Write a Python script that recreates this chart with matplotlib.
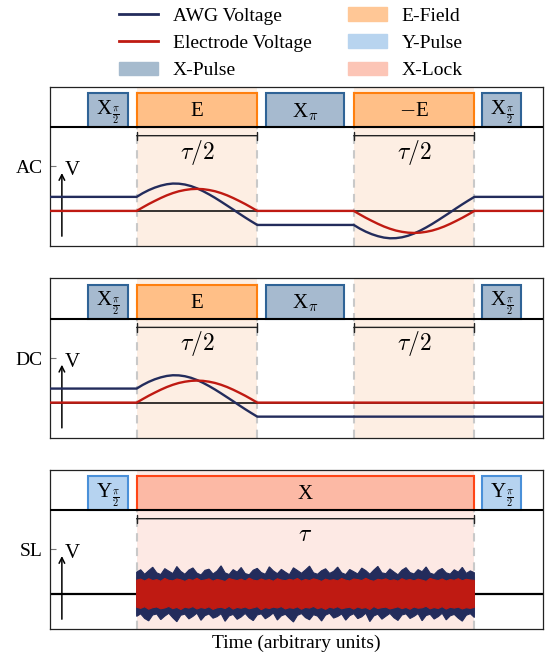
import numpy as np
import matplotlib
matplotlib.use('Agg')
import matplotlib.pyplot as plt
from matplotlib.patches import Rectangle, Patch
from matplotlib.lines import Line2D

plt.rcParams['font.family'] = ['Liberation Serif', 'DejaVu Serif']
plt.rcParams['mathtext.fontset'] = 'cm'

# ---------------- data ----------------
panel_names = ['AC', 'DC', 'SL']

# one tau/2 window of the field pulse, sampled at 21 equally spaced times
awg_shape = [1.00, 1.26, 1.48, 1.66, 1.80, 1.90, 1.95, 1.94, 1.88, 1.77, 1.61,
             1.41, 1.18, 0.93, 0.66, 0.38, 0.10, -0.19, -0.47, -0.74, -1.00]
electrode_shape = [0.00, 0.25, 0.49, 0.71, 0.92, 1.11, 1.27, 1.40, 1.49, 1.55, 1.57,
                   1.55, 1.49, 1.40, 1.27, 1.11, 0.92, 0.71, 0.49, 0.25, 0.00]
awg_offset = 1.0

# spin-lock noise: upper / lower envelopes of the AWG and electrode traces
awg_upper = [1.55, 1.72, 1.40, 1.66, 1.90, 1.50, 1.38, 1.80, 1.62, 1.45, 1.95, 1.60, 1.40,
             1.70, 1.85, 1.48, 1.35, 1.68, 1.76, 1.42, 1.63, 2.00, 1.50, 1.38, 1.73, 1.55,
             1.88, 1.45, 1.36, 1.69, 1.82, 1.52, 1.40, 1.93, 1.64, 1.44, 1.75, 1.55, 1.37,
             1.86, 1.67, 1.47, 1.71, 1.98, 1.50, 1.40, 1.65, 1.79, 1.46, 1.61, 1.91, 1.50,
             1.38, 1.74, 1.58, 1.42, 1.84, 1.66, 1.40, 1.70, 1.96, 1.50, 1.44, 1.78, 1.56,
             1.36, 1.69, 1.87, 1.52, 1.42, 1.73, 1.58, 1.92, 1.48, 1.38, 1.67, 1.81, 1.50,
             1.41, 1.72, 1.55, 1.89, 1.46, 1.64, 1.51]
awg_lower = [-1.60, -1.42, -1.75, -1.92, -1.50, -1.43, -1.83, -1.58, -1.38, -1.70, -1.98,
             -1.52, -1.44, -1.78, -1.60, -1.37, -1.88, -1.55, -1.43, -1.73, -1.62, -1.41,
             -1.95, -1.57, -1.46, -1.81, -1.64, -1.39, -1.71, -1.90, -1.50, -1.42, -1.77,
             -1.59, -1.36, -1.86, -1.56, -1.45, -1.74, -2.00, -1.53, -1.40, -1.69, -1.84,
             -1.48, -1.58, -1.93, -1.51, -1.38, -1.72, -1.61, -1.43, -1.87, -1.55, -1.41,
             -1.76, -1.63, -1.37, -1.97, -1.57, -1.44, -1.80, -1.59, -1.39, -1.70, -1.89,
             -1.50, -1.42, -1.75, -1.60, -1.40, -1.91, -1.54, -1.45, -1.79, -1.62, -1.38,
             -1.85, -1.56, -1.46, -1.73, -1.94, -1.52, -1.41, -1.68]
electrode_upper = [0.98, 1.05, 0.92, 1.08, 0.95, 1.02, 0.90, 1.10, 0.97, 0.93, 1.06, 1.00,
                   0.89, 1.04, 0.96, 1.11, 0.94, 0.99, 1.07, 0.91, 1.03, 0.97, 0.88, 1.09,
                   1.01, 0.95, 1.05, 0.92, 1.12, 0.98, 0.93, 1.06, 0.96, 1.02, 0.90, 1.08,
                   0.99, 0.94, 1.04, 0.97, 1.10, 0.91, 1.03, 0.95, 1.07, 1.00, 0.89, 1.05,
                   0.96, 1.01, 0.93, 1.09, 0.98, 0.92, 1.06, 1.02, 0.95, 1.11, 0.97, 0.90,
                   1.04, 0.99, 1.07, 0.94, 1.00, 0.91, 1.08, 0.96, 1.03, 0.93, 1.05, 0.98,
                   0.89, 1.10, 1.01, 0.95, 1.06, 0.92, 1.02, 0.97, 1.08, 0.94, 1.04, 0.99, 0.96]
electrode_lower = [-0.95, -1.03, -0.91, -1.09, -0.98, -0.93, -1.06, -1.00, -0.89, -1.05,
                   -0.96, -1.11, -0.94, -1.01, -0.90, -1.07, -0.97, -1.03, -0.92, -1.10,
                   -0.99, -0.95, -1.04, -0.88, -1.08, -0.96, -1.02, -0.93, -1.06, -0.99,
                   -0.91, -1.12, -0.97, -1.04, -0.94, -1.00, -0.90, -1.07, -0.98, -1.03,
                   -0.92, -1.09, -0.96, -1.01, -0.89, -1.05, -0.97, -1.10, -0.94, -1.02,
                   -0.91, -1.06, -0.99, -0.95, -1.08, -0.93, -1.03, -0.97, -1.11, -0.90,
                   -1.04, -0.98, -0.94, -1.07, -1.00, -0.92, -1.05, -0.96, -1.09, -0.93,
                   -1.02, -0.99, -0.88, -1.06, -0.97, -1.04, -0.91, -1.08, -0.95, -1.01,
                   -0.94, -1.07, -0.98, -1.03, -0.96]

# timing (units of tau/2)
t_min, t_max = -0.716, 3.369
field1 = (0.0, 1.0)
field2 = (1.8, 2.8)

# pulse sequences: (label, start, end, kind)
seq_ac = [(r'X$_{\frac{\pi}{2}}$', -0.403, -0.075, 'x'), ('E', 0.0, 1.0, 'e'),
          (r'X$_{\pi}$', 1.072, 1.716, 'x'), (r'$-$E', 1.8, 2.8, 'e'),
          (r'X$_{\frac{\pi}{2}}$', 2.863, 3.187, 'x')]
seq_dc = [(r'X$_{\frac{\pi}{2}}$', -0.403, -0.075, 'x'), ('E', 0.0, 1.0, 'e'),
          (r'X$_{\pi}$', 1.072, 1.716, 'x'), (r'X$_{\frac{\pi}{2}}$', 2.863, 3.187, 'x')]
seq_sl = [(r'Y$_{\frac{\pi}{2}}$', -0.403, -0.075, 'y'), ('X', 0.0, 2.8, 'lock'),
          (r'Y$_{\frac{\pi}{2}}$', 2.863, 3.187, 'y')]

# ---------------- styles ----------------
C_AWG = '#232c5c'
C_EL = '#bf1a12'
box_style = {
    'x': dict(fc='#a6bacf', ec='#2f6396'),
    'e': dict(fc='#ffbf87', ec='#ff7f0e'),
    'y': dict(fc='#b6d3f0', ec='#4a90d9'),
    'lock': dict(fc='#fcb9a5', ec='#ff4516'),
}
leg_colors = {'X-Pulse': '#a6bbce', 'E-Field': '#ffc796', 'Y-Pulse': '#b8d4ef', 'X-Lock': '#fcc5b6'}
shade_e = '#fdeee3'
shade_sl = '#fde9e4'

Y_LO, Y_HI = -2.5, 8.85
SEP = 5.95
BOX_TOP = 8.38

fig = plt.figure(figsize=(5.48, 6.57), dpi=100)
left, width, height = 50.3 / 548, 492.7 / 548, 159.3 / 657
bottoms = [(657 - 246) / 657, (657 - 437.7) / 657, (657 - 629) / 657]
axes = [fig.add_axes([left, b, width, height]) for b in bottoms]


def setup(ax, name, seq, regions, shade):
    ax.set_xlim(t_min, t_max)
    ax.set_ylim(Y_LO, Y_HI)
    ax.set_xticks([])
    ax.set_yticks([3.17])
    ax.set_yticklabels([name])
    ax.tick_params(axis='y', direction='in', length=4, color='#777777', pad=5.5, labelsize=14)
    for sp in ax.spines.values():
        sp.set_linewidth(0.9)
        sp.set_color('#222222')
    for (a, b) in regions:
        ax.axvspan(a, b, color=shade, lw=0, zorder=0)
        for xv in (a, b):
            ax.axvline(xv, color='#c9c9c9', lw=1.5, ls=(0, (4, 3)), zorder=1)
        ax.annotate('', xy=(b, 5.36), xytext=(a, 5.36),
                    arrowprops=dict(arrowstyle='|-|', lw=1.0, color='#222222',
                                    mutation_scale=3, shrinkA=0, shrinkB=0), zorder=4)
    ax.axhline(SEP, color='black', lw=1.5, zorder=5)
    for label, a, b, kind in seq:
        st = box_style[kind]
        ax.add_patch(Rectangle((a, SEP), b - a, BOX_TOP - SEP, facecolor=st['fc'],
                               edgecolor=st['ec'], lw=1.5, zorder=3))
        ax.text((a + b) / 2, 7.05, label, ha='center', va='center', fontsize=15, zorder=6)
    ax.annotate('', xy=(-0.62, 2.7), xytext=(-0.62, -1.8),
                arrowprops=dict(arrowstyle='->', lw=1.1, color='black',
                                mutation_scale=10, shrinkA=0, shrinkB=0))
    ax.text(-0.6, 2.85, 'V', fontsize=15, ha='left', va='center')


s = np.linspace(0, 1, len(awg_shape))
awg_shape_a = np.array(awg_shape)
el_shape_a = np.array(electrode_shape)

# AC panel
ax = axes[0]
setup(ax, 'AC', seq_ac, [field1, field2], shade_e)
for (a, b) in [field1, field2]:
    ax.text((a + b) / 2, 3.72, r'$\tau/2$', ha='center', va='baseline', fontsize=17)
ax.axhline(0, color='black', lw=1.1, zorder=2)
t_ac = np.concatenate([[t_min], field1[0] + s, field2[0] + s, [t_max]])
awg_ac = np.concatenate([[awg_offset], awg_shape_a, -awg_shape_a, [awg_offset]])
el_ac = np.concatenate([[0], el_shape_a, -el_shape_a, [0]])
ax.plot(t_ac, awg_ac, color=C_AWG, lw=1.7, zorder=7)
ax.plot(t_ac, el_ac, color=C_EL, lw=1.7, zorder=7)

# DC panel
ax = axes[1]
setup(ax, 'DC', seq_dc, [field1, field2], shade_e)
for (a, b) in [field1, field2]:
    ax.text((a + b) / 2, 3.72, r'$\tau/2$', ha='center', va='baseline', fontsize=17)
ax.axhline(0, color='black', lw=1.1, zorder=2)
t_dc = np.concatenate([[t_min], field1[0] + s, [t_max]])
awg_dc = np.concatenate([[awg_offset], awg_shape_a, [-awg_offset]])
el_dc = np.concatenate([[0], el_shape_a, [0]])
ax.plot(t_dc, awg_dc, color=C_AWG, lw=1.7, zorder=7)
ax.plot(t_dc, el_dc, color=C_EL, lw=1.7, zorder=7)

# SL panel
ax = axes[2]
lock = (field1[0], field2[1])
setup(ax, 'SL', seq_sl, [lock], shade_sl)
ax.text(sum(lock) / 2, 3.8, r'$\tau$', ha='center', va='baseline', fontsize=17)
ax.axhline(0, color='black', lw=1.6, zorder=2)


def band(ax, upper, lower, color, z):
    tu = np.linspace(lock[0], lock[1], len(upper))
    tl = np.linspace(lock[0], lock[1], len(lower))
    ax.fill(np.concatenate([tu, tl[::-1]]), np.concatenate([upper, lower[::-1]]),
            facecolor=color, edgecolor=color, lw=0.8, zorder=z)


band(ax, awg_upper, awg_lower, C_AWG, 7)
band(ax, electrode_upper, electrode_lower, C_EL, 8)
ax.set_xlabel('Time (arbitrary units)', fontsize=14, labelpad=4)

handles = [Line2D([], [], color=C_AWG, lw=2), Line2D([], [], color=C_EL, lw=2),
           Patch(color=leg_colors['X-Pulse']), Patch(color=leg_colors['E-Field']),
           Patch(color=leg_colors['Y-Pulse']), Patch(color=leg_colors['X-Lock'])]
labels = ['AWG Voltage', 'Electrode Voltage', 'X-Pulse', 'E-Field', 'Y-Pulse', 'X-Lock']
fig.legend(handles, labels, ncol=2, loc='upper center', bbox_to_anchor=(291 / 548, 1.007),
           frameon=False, fontsize=14, handlelength=2.0, labelspacing=0.5,
           columnspacing=1.9, handletextpad=0.75, borderpad=0.1)

fig.savefig('out.png', dpi=100)
